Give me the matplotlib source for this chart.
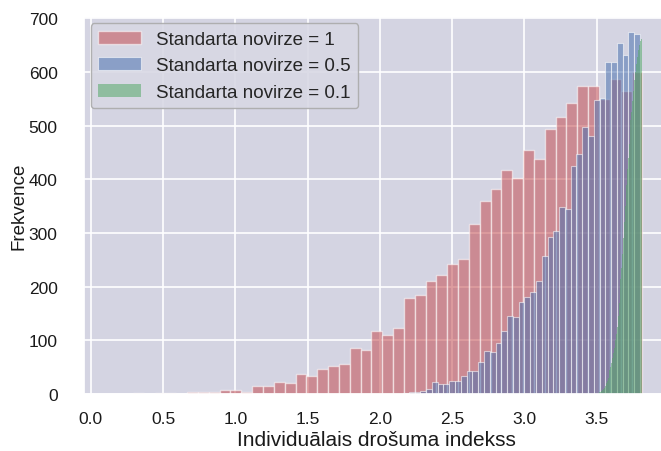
import numpy as np
import matplotlib
matplotlib.use("Agg")
import matplotlib.pyplot as plt
import seaborn as sns

# histogrammu dati (nolasīti no attēla)
labels = ["Standarta novirze = 1", "Standarta novirze = 0.5", "Standarta novirze = 0.1"]

red_start, red_width = 0.141, 0.075
red_counts = [1, 0, 2, 0, 2, 2, 1, 4, 4, 4,
              7, 7, 4, 15, 15, 23, 20, 37, 34, 47,
              52, 56, 85, 82, 118, 110, 123, 178, 184, 210,
              222, 243, 252, 317, 359, 382, 418, 402, 454, 438,
              493, 516, 542, 574, 574, 550, 587, 565, 600]

blue_start, blue_width = 1.72, 0.04
blue_counts = [0, 0, 0, 0, 0, 0, 0, 1, 0, 1,
               1, 2, 4, 3, 6, 9, 22, 19, 19, 25,
               25, 34, 43, 43, 59, 81, 78, 96, 118, 146,
               143, 171, 180, 191, 211, 257, 292, 304, 348, 345,
               425, 447, 498, 480, 547, 552, 618, 618, 654, 632,
               674, 671]

green_start, green_width = 3.50, 0.00632
green_counts = [1, 1, 2, 3, 4, 6, 7, 9, 12, 15,
                20, 25, 30, 36, 44, 50, 58, 68, 76, 85,
                100, 112, 125, 145, 170, 190, 215, 235, 260, 290,
                320, 350, 390, 420, 440, 465, 490, 510, 525, 545,
                565, 585, 600, 615, 628, 640, 650, 657, 660, 662]

sns.set_theme(style="darkgrid", color_codes=True)
plt.rcParams['font.family'] = ['Liberation Sans', 'DejaVu Sans']
plt.rcParams['axes.facecolor'] = '#d4d4e2'

fig = plt.figure(figsize=(6.61, 4.52), dpi=100)
ax = fig.add_axes([0.127, 0.126, 0.885, 0.835])


def draw(start, width, counts, color, label, lw):
    left = start + width * np.arange(len(counts))
    ax.bar(left, counts, width=width, align='edge', color=color,
           alpha=0.55, edgecolor='white', linewidth=lw, label=label)


draw(red_start, red_width, red_counts, 'r', labels[0], 1.0)
draw(blue_start, blue_width, blue_counts, 'b', labels[1], 0.8)
draw(green_start, green_width, green_counts, 'g', labels[2], 0)

ax.set_xlim(-0.048, 4.0)
ax.set_ylim(0, 703)
ax.set_xticks(np.arange(0, 3.51, 0.5))
ax.set_yticks(np.arange(0, 701, 100))
ax.tick_params(axis='x', labelsize=12.5, colors='#1a1a1a', pad=6)
ax.tick_params(axis='y', labelsize=12.5, colors='#1a1a1a', pad=13)
ax.grid(color='white', linewidth=1.2)
ax.set_xlabel("Individuālais drošuma indekss", fontsize=15, color='#1a1a1a', labelpad=3)
ax.set_ylabel("Frekvence", fontsize=13.5, color='#1a1a1a', labelpad=1)
ax.legend(loc='upper left', fontsize=13.5, handlelength=2.3,
          borderaxespad=0.35, facecolor='#d8d8e4', edgecolor='#aaaaaa',
          framealpha=0.9)

plt.savefig("out.png", dpi=100)
